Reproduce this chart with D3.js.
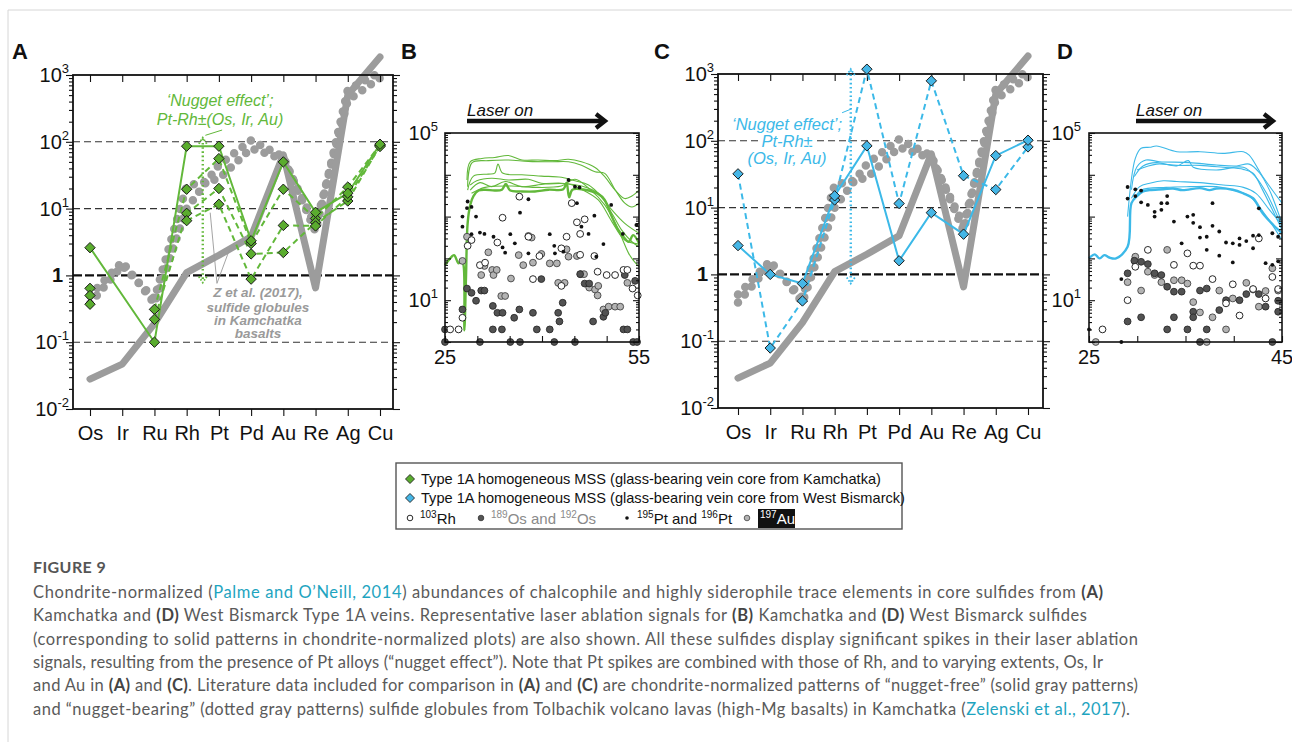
<!DOCTYPE html>
<html><head><meta charset="utf-8">
<script src="https://cdn.jsdelivr.net/npm/d3@7/dist/d3.min.js"></script>
<style>
html,body{margin:0;padding:0;background:#fff;}
svg{display:block;font-family:"Liberation Sans",Arial,sans-serif;}
</style></head><body>
<svg width="1292" height="742"></svg>
<script>
// ================= DATA =================
const elements = ["Os","Ir","Ru","Rh","Pt","Pd","Au","Re","Ag","Cu"];
const gridLevels = [100, 10, 1, 0.1];

// literature (Zelenski et al. 2017) patterns
const grayFree = [0.028,0.047,0.19,1.1,2.0,3.8,64,0.65,500,1860];
const grayNug1 = [0.5,1.6,0.38,10,45,105,60,4.5,600,1100];
const grayNug2 = [0.38,1.4,0.45,22,28,80,55,5.5,420,900];

// Panel A: Kamchatka
const kamSolid = [2.6,null,0.10,86,86,3.3,50,8.8,17,92];
const kamDash1 = [0.64,null,0.31,19.5,56,3.0,19.5,7.1,21,90];
const kamDash2 = [0.50,null,0.22,8.5,20,2.1,2.2,6.2,13,88];
const kamDash3 = [0.37,null,null,6.6,11.6,0.88,5.6,5.5,15,85];

// Panel C: West Bismarck
const bisSolid = [2.7,1.0,0.73,15,84,1.6,8.4,4.0,60,102];
const bisDash  = [32,0.079,0.40,13,1180,11.5,790,30,18.6,81];

// Panel B: laser signals Kamchatka [time s, cps]
const kamSignalThick = [[25,69],[25.8,100],[26.4,120],[27.1,76],[27.6,95],[27.9,63],[28.0,1.9],[28.25,36],[28.5,690],[28.9,1900],[29.4,3100],[30.2,4200],[31.2,4400],[32.7,4200],[33.8,4400],[34.4,6000],[35.1,4200],[36.9,4000],[38.9,4000],[41.0,4400],[43.3,4500],[43.8,6500],[44.2,2900],[44.7,4400],[46.6,4400],[48.7,3500],[49.7,2500],[50.8,1000],[51.8,480],[52.6,330],[53.4,250],[54.1,360],[55,230]];
const kamSignal1 = [[28.4,7500],[28.9,20500],[30.7,24600],[32.7,26000],[34.8,29000],[36.9,22600],[39.4,22600],[42.0,21800],[44.1,23500],[46.1,20500],[48.2,15000],[49.7,9000],[51.3,4300],[52.8,2700],[53.9,3100],[55,4300]];
const kamSignal2 = [[28.5,5200],[29.2,19500],[31.7,21800],[34.8,22600],[37.9,21000],[41.5,20500],[44.1,20500],[46.1,17000],[48.2,11800],[49.7,10800],[51.3,4400],[52.8,2100],[53.9,1700],[55,2100]];
const kamSignal3 = [[28.5,4300],[29.4,9300],[31.7,10400],[32.7,11000],[33.2,18000],[33.9,11000],[36.9,10000],[39.9,9300],[43.0,8700],[45.1,7200],[47.2,5700],[49.2,3000],[50.8,1450],[52.8,690],[55,400]];
const kamSignal4 = [[28.9,5700],[29.9,7200],[32.2,8300],[34.8,7500],[37.9,7800],[39.9,6300],[43.0,6300],[46.1,5400],[48.7,3600],[50.8,1200],[52.3,480],[53.9,250],[55,190]];
const kamSignal5 = [[28.9,4300],[30.4,6500],[32.2,5200],[34.3,6900],[36.9,5200],[40.5,6000],[44.1,6000],[46.1,4500],[48.7,2500],[50.8,760],[52.8,275],[55,220]];
const kamSignal6 = [[29.1,3600],[31.2,5000],[35.3,5400],[38.9,5000],[43.0,5400],[45.1,7800],[47.2,4800],[49.7,1900],[51.8,480],[53.4,132],[54.1,91],[55,63]];
const kamRh = [[25.8,2],[27.1,2],[27.7,3.8],[28.5,200],[29.1,275],[30.4,69],[31.2,79],[33.1,240],[33.9,940],[36.5,3000],[37.9,330],[38.6,32],[39.6,114],[43.0,174],[43.0,22],[43.8,330],[44.6,2100],[45.4,730],[45.9,385],[46.6,860],[45.9,122],[48.1,114],[50.0,40],[51.3,40],[52.6,53],[53.2,53],[54.0,19],[54.8,13],[48.6,48]];
const kamOs = [[25,2],[25,1],[27.7,6],[28.4,19],[29.1,15],[29.8,9.7],[30.6,17],[31.1,17],[30.4,1],[32.4,7.3],[32.4,2],[33.1,5],[33.9,5],[33.8,2],[35.1,1],[35.7,3.8],[36.5,6],[36.6,1],[38.6,5],[39.2,2],[39.9,32],[41.2,2],[41.9,1],[42.5,5],[42.7,3.1],[43.2,8.7],[45.1,1],[45.9,42],[46.6,25],[47.3,25],[47.9,3.1],[49.5,4],[49.8,5],[52.6,2],[53.2,2],[54.1,1],[54.7,1],[52.8,40],[54.4,29]];
const kamPt = [[27.7,575],[27.7,1000],[28.4,1600],[28.5,2300],[29.1,1700],[29.8,1000],[29.1,380],[30.4,415],[31.1,385],[32.5,330],[33.9,183],[34.3,137],[35.1,380],[35.8,230],[36.6,1240],[37.9,2600],[37.9,132],[41.2,380],[41.9,200],[42.0,132],[43.3,145],[44.1,7500],[45.1,5200],[45.4,2100],[45.8,5000],[46.1,575],[47.2,385],[48.1,1050],[48.4,110],[49.5,220],[50.7,1900],[52.5,385],[54.6,630]];
const kamAu = [[27.7,87],[28.4,330],[30.6,40],[31.1,66],[31.7,140],[32.3,53],[32.5,40],[33.0,53],[33.7,12.6],[34.3,12.6],[35.2,33],[36.4,120],[37.1,69],[37.9,345],[38.4,315],[38.6,79],[39.9,128],[41.2,76],[42.3,76],[42.5,26],[43.5,26],[43.8,165],[44.1,110],[45.4,114],[46.0,42],[46.5,42],[47.3,20],[48.2,18],[48.7,22],[48.6,13],[49.5,6],[50.3,7],[51.3,7],[52.1,7],[53.2,26]];

// Panel D: laser signals West Bismarck
const bisSignalThick = [[25,100],[25.6,125],[26.1,100],[26.6,120],[27.1,105],[27.8,100],[29.0,190],[29.4,2100],[29.97,3100],[30.6,4000],[31.3,4300],[32.7,4500],[33.7,4700],[34.7,4300],[36.5,4800],[37.5,4300],[38.2,4700],[39.9,4400],[41.0,3600],[42.0,2750],[43.0,1200],[44.1,630],[45,400]];
const bisSignal1 = [[29.0,1000],[29.8,24700],[30.4,43000],[31.3,45500],[32.0,49000],[34.1,35700],[36.5,35700],[38.9,32600],[41.0,35700],[41.6,29600],[43.0,9100],[45,2100]];
const bisSignal2 = [[29.4,4400],[29.97,15600],[30.9,22500],[32.3,20600],[35.4,19600],[38.2,17100],[40.3,16300],[41.6,18000],[42.7,10900],[43.7,4300],[45,690]];
const bisSignal3 = [[29.7,9100],[30.6,16300],[32.0,19600],[34.1,16300],[35.3,21800],[35.8,15100],[38.2,13000],[41.0,15100],[42.3,8700],[43.4,3600],[45,575]];
const bisSignal4 = [[29.97,13000],[32.0,18000],[34.1,16800],[36.5,16800],[38.9,15100],[41.0,13500],[42.0,10900],[43.0,4300],[45,480]];
const bisSignal5 = [[29.4,2750],[30.25,5200],[31.3,6300],[32.7,7200],[34.1,6900],[36.5,6500],[38.9,5700],[41.0,5000],[42.3,3600],[43.7,1450],[45,630]];
const bisSignal6 = [[29.6,2500],[30.4,4300],[33.0,5000],[35.4,5200],[38.2,5200],[39.6,4500],[41.6,3100],[43.4,1000],[45,275]];
const bisRh = [[26.4,2],[29.0,10],[29.8,63],[31.1,160],[33.8,70],[35.2,132],[35.8,67],[36.5,67],[37.8,32],[39.9,24],[40.6,4.3],[39.2,8.4],[42.0,18.5],[42.6,300],[43.3,11],[44.0,36],[44.6,18.5]];
const bisOs = [[29.0,44],[29.0,3.1],[29.7,88],[30.4,83],[30.4,3.9],[31.1,73],[31.8,44],[32.5,40],[33.1,2],[33.1,21],[33.8,16],[33.8,3.9],[34.6,16],[35.2,2],[35.8,5.3],[35.8,3.9],[36.5,17],[36.5,1],[37.2,19],[37.2,2],[38.5,5.8],[39.2,10],[40.6,10],[41.3,14],[42.6,14],[43.3,7],[44.0,1],[44.6,9.7],[44.6,5.3]];
const bisPt = [[25.0,2],[28.35,1],[28.35,32],[29.0,5100],[29.0,2700],[29.8,4500],[29.8,3100],[30.4,4200],[30.4,2200],[31.1,1900],[31.8,1300],[31.8,1000],[32.5,1450],[32.5,2100],[33.1,3100],[33.1,2100],[33.8,760],[34.6,230],[35.2,1000],[35.8,1100],[35.8,710],[36.5,560],[36.5,315],[37.2,330],[37.2,160],[37.8,600],[37.8,2100],[38.5,440],[38.5,116],[39.2,240],[39.9,230],[39.9,80],[40.6,300],[40.6,210],[41.3,260],[42.0,350],[42.0,175],[42.6,360],[42.6,1580],[43.3,77],[44.0,400],[44.0,70],[44.6,330],[44.6,85]];
const bisAu = [[25.7,1],[29.0,27],[29.8,110],[30.4,17],[31.1,48],[31.8,40],[32.5,27],[33.1,160],[33.8,30],[34.6,30],[35.2,25],[35.8,9],[36.5,5.1],[37.2,1],[37.8,3.9],[38.5,17],[39.2,2],[39.9,11],[41.3,26],[42.0,18],[42.6,7],[43.3,16.6],[44.0,58],[44.6,17]];

// annotation anchors (category index, value)
const nuggetArrowA = {idx:3.5, top:115, bottom:0.78};
const nuggetArrowC = {idx:3.5, top:1180, bottom:0.73};

const captionLines = [
 [["Chondrite-normalized (","n"],["Palme and O’Neill, 2014","l"],[") abundances of chalcophile and highly siderophile trace elements in core sulfides from ","n"],["(A)","b"]],
 [["Kamchatka and ","n"],["(D)","b"],[" West Bismarck Type 1A veins. Representative laser ablation signals for ","n"],["(B)","b"],[" Kamchatka and ","n"],["(D)","b"],[" West Bismarck sulfides","n"]],
 [["(corresponding to solid patterns in chondrite-normalized plots) are also shown. All these sulfides display significant spikes in their laser ablation","n"]],
 [["signals, resulting from the presence of Pt alloys (“nugget effect”). Note that Pt spikes are combined with those of Rh, and to varying extents, Os, Ir","n"]],
 [["and Au in ","n"],["(A)","b"],[" and ","n"],["(C)","b"],[". Literature data included for comparison in ","n"],["(A)","b"],[" and ","n"],["(C)","b"],[" are chondrite-normalized patterns of “nugget-free” (solid gray patterns)","n"]],
 [["and “nugget-bearing” (dotted gray patterns) sulfide globules from Tolbachik volcano lavas (high-Mg basalts) in Kamchatka (","n"],["Zelenski et al., 2017","l"],[").","n"]]
];
const captionEnds = [1103,1087,1138,1103,1138,1130];

// ================= DRAWING =================
const svg = d3.select("svg");
const GREEN = "#62b83a", GREEN_FILL = "#5aac2e", BLUE = "#3cb9e8", BLUE_FILL = "#45b6e6", GRAY = "#9c9c9c";

svg.append("line").attr("x1",8).attr("x2",1292).attr("y1",10).attr("y2",10).attr("stroke","#d6d6d6");
svg.append("line").attr("x1",8).attr("x2",8).attr("y1",10).attr("y2",742).attr("stroke","#d6d6d6");

function powLabel(g, xPos, yPos, k, anchorShift) {
  const t = g.append("text").attr("x", xPos).attr("y", yPos).attr("text-anchor","end")
     .attr("font-size",20).attr("fill","#111");
  if (k === 0) { t.attr("font-weight","bold").attr("x", xPos - (anchorShift||0)).text("1"); return; }
  t.append("tspan").text("10");
  t.append("tspan").attr("font-size",13).attr("dy",-9).text(k < 0 ? "-" + (-k) : String(k));
}

function diamondPath(s){ return `M0,${-s}L${s},0L0,${s}L${-s},0Z`; }

function chemPanel(p) {
  const x = d3.scalePoint().domain(elements).range([p.xFirst, p.xLast]);
  const xi = d3.scaleLinear().domain([0, elements.length-1]).range([p.xFirst, p.xLast]);
  const y = d3.scaleLog().domain([0.01, 1000]).range([p.bottom, p.top]);
  const g = svg.append("g");
  gridLevels.forEach(v => {
    g.append("line").attr("x1", p.left).attr("x2", p.right).attr("y1", y(v)).attr("y2", y(v))
      .attr("stroke", v === 1 ? "#111" : "#333").attr("stroke-width", v === 1 ? 2.4 : 1.1)
      .attr("stroke-dasharray", v === 1 ? "9,3" : "7,4");
  });
  const line = d3.line().x(d => x(d[0])).y(d => y(d[1]));
  const ser = vals => elements.map((e,i) => [e, vals[i]]).filter(d => d[1] != null);
  // literature
  [grayNug1, grayNug2].forEach(v => g.append("path").attr("d", line(ser(v))).attr("fill","none")
     .attr("stroke",GRAY).attr("stroke-width",8.5).attr("stroke-linecap","round").attr("stroke-dasharray","0,10.5"));
  g.append("path").attr("d", line(ser(grayFree))).attr("fill","none").attr("stroke",GRAY)
     .attr("stroke-width",7).attr("stroke-linejoin","round").attr("stroke-linecap","round");
  // axes
  const minors = []; d3.range(-2,3).forEach(k => d3.range(2,10).forEach(m => minors.push(m*Math.pow(10,k))));
  const majors = d3.range(-2,4).map(k => Math.pow(10,k));
  const axL = g.append("g").attr("transform",`translate(${p.left},0)`);
  axL.append("g").call(d3.axisLeft(y).tickValues(minors).tickSize(4).tickFormat(""));
  axL.append("g").call(d3.axisLeft(y).tickValues(majors).tickSize(7).tickFormat(""));
  const axR = g.append("g").attr("transform",`translate(${p.right},0)`);
  axR.append("g").call(d3.axisRight(y).tickValues(minors).tickSize(4).tickFormat(""));
  axR.append("g").call(d3.axisRight(y).tickValues(majors).tickSize(7).tickFormat(""));
  g.append("g").attr("transform",`translate(0,${p.top})`).call(d3.axisBottom(x).tickSize(7).tickFormat(""));
  const axB = g.append("g").attr("transform",`translate(0,${p.bottom})`).call(d3.axisBottom(x).tickSize(7).tickPadding(10));
  axB.selectAll("text").attr("font-size",20).attr("fill","#111").attr("font-family",'"Liberation Sans",Arial,sans-serif');
  g.selectAll(".domain").remove();
  g.selectAll(".tick line").attr("stroke","#111").attr("stroke-width",1.1);
  g.append("rect").attr("x",p.left).attr("y",p.top).attr("width",p.right-p.left).attr("height",p.bottom-p.top)
     .attr("fill","none").attr("stroke","#111").attr("stroke-width",1.8);
  majors.forEach(v => powLabel(g, p.left-4, y(v)+7, Math.round(Math.log10(v)), 6));
  return {x, xi, y, g, line, ser};
}

function drawSeries(P, vals, color, fill, dashed, skipOsLink) {
  let pts = P.ser(vals);
  let lp = skipOsLink ? pts.filter(d => d[0] !== "Os") : pts;
  P.g.append("path").attr("d", P.line(lp)).attr("fill","none").attr("stroke",color)
    .attr("stroke-width",2).attr("stroke-dasharray", dashed ? "6,4" : null);
  return pts;
}
function drawDiamonds(P, pts, fill) {
  P.g.selectAll(null).data(pts).join("path")
    .attr("transform", d => `translate(${P.x(d[0])},${P.y(d[1])})`)
    .attr("d", diamondPath(5.2)).attr("fill",fill).attr("stroke","#1a1a1a").attr("stroke-width",1);
}
function dottedArrow(P, a, color) {
  const xx = P.xi(a.idx), y0 = P.y(a.top), y1 = P.y(a.bottom);
  P.g.append("line").attr("x1",xx).attr("x2",xx).attr("y1",y0+1).attr("y2",y1-1).attr("stroke",color)
    .attr("stroke-width",2.4).attr("stroke-dasharray","1.6,2.6");
  P.g.append("path").attr("d",`M${xx-4},${y0+6}L${xx},${y0}L${xx+4},${y0+6}`).attr("fill","none").attr("stroke",color).attr("stroke-width",1.8).attr("stroke-dasharray","1.6,1.6");
  P.g.append("path").attr("d",`M${xx-4},${y1-6}L${xx},${y1}L${xx+4},${y1-6}`).attr("fill","none").attr("stroke",color).attr("stroke-width",1.8).attr("stroke-dasharray","1.6,1.6");
}

// ----- Panel A -----
const A = chemPanel({left:73, right:393, top:75, bottom:409, xFirst:90, xLast:380});
const aPts = [];
[[kamDash1,true],[kamDash2,true],[kamDash3,true],[kamSolid,false]].forEach(([v,d]) => {
  aPts.push(...drawSeries(A, v, GREEN, GREEN_FILL, d, d));
});
dottedArrow(A, nuggetArrowA, GREEN);
A.g.append("line").attr("x1",A.xi(4.1)).attr("y1",A.y(150)).attr("x2",A.xi(3.58)).attr("y2",A.y(125)).attr("stroke",GREEN).attr("stroke-width",1);
// gray pointer to literature lines
A.g.append("path").attr("d",`M${A.xi(3.73)},${A.y(8.7)}L${A.xi(3.94)},${A.y(0.76)}L${A.xi(4.35)},${A.y(2.6)}`)
  .attr("fill","none").attr("stroke","#9a9a9a").attr("stroke-width",0.9);
drawDiamonds(A, aPts, GREEN_FILL);
A.g.append("text").attr("text-anchor","middle").attr("font-style","italic").attr("font-size",16).attr("fill",GREEN)
  .attr("x",220).attr("y",106).text("‘Nugget effect’;");
A.g.append("text").attr("text-anchor","middle").attr("font-style","italic").attr("font-size",16).attr("fill",GREEN)
  .attr("x",220).attr("y",124.5).text("Pt-Rh±(Os, Ir, Au)");
const zLab = A.g.append("text").attr("text-anchor","middle").attr("font-style","italic").attr("font-weight","bold")
  .attr("font-size",13.5).attr("fill","#9a9a9a");
[["Z et al. (2017),",297],["sulfide globules",312],["in Kamchatka",325],["basalts",338]].forEach(([t,yy]) =>
  zLab.append("tspan").attr("x",258).attr("y",yy).text(t));

// ----- Panel C -----
const C = chemPanel({left:718, right:1043, top:74, bottom:408, xFirst:738, xLast:1028});
const cPts = [];
cPts.push(...drawSeries(C, bisDash, BLUE, BLUE_FILL, true, false));
cPts.push(...drawSeries(C, bisSolid, BLUE, BLUE_FILL, false, false));
dottedArrow(C, nuggetArrowC, BLUE);
C.g.append("line").attr("x1",C.xi(3.23)).attr("y1",C.y(263)).attr("x2",C.xi(3.52)).attr("y2",C.y(300)).attr("stroke",BLUE).attr("stroke-width",1);
drawDiamonds(C, cPts, BLUE_FILL);
const cLab = C.g.append("text").attr("text-anchor","middle").attr("font-style","italic").attr("font-size",16.5).attr("fill",BLUE)
  .attr("stroke","#fff").attr("stroke-width",5).attr("paint-order","stroke");
[["‘Nugget effect’;",130],["Pt-Rh±",147],["(Os, Ir, Au)",164]].forEach(([t,yy]) =>
  cLab.append("tspan").attr("x",787).attr("y",yy).text(t));

// ----- time-signal panels -----
function tsPanel(p) {
  const x = d3.scaleLinear().domain(p.xDomain).range([p.left, p.right]);
  const y = d3.scaleLog().domain([1, 1e5]).range([p.bottom, p.top]);
  const g = svg.append("g");
  const line = d3.line().x(d => x(d[0])).y(d => y(d[1])).curve(d3.curveCatmullRom);
  p.thin.forEach(s => g.append("path").attr("d", line(s)).attr("fill","none").attr("stroke",p.color).attr("stroke-width",1.1));
  g.append("path").attr("d", line(p.thick)).attr("fill","none").attr("stroke",p.color).attr("stroke-width",2.4);
  const dots = (data, r, fill, stroke) => g.selectAll(null).data(data).join("circle")
    .attr("cx", d => x(d[0])).attr("cy", d => y(d[1])).attr("r", r).attr("fill", fill)
    .attr("stroke", stroke).attr("stroke-width", stroke === "none" ? 0 : 0.9);
  dots(p.au, 3.4, "#b3b3b3", "#444");
  dots(p.os, 3.4, "#525252", "#2a2a2a");
  dots(p.rh, 3.4, "#fff", "#111");
  dots(p.pt, 1.9, "#111", "none");
  // axes
  const minors = []; d3.range(0,5).forEach(k => d3.range(2,10).forEach(m => minors.push(m*Math.pow(10,k))));
  const majors = d3.range(0,6).map(k => Math.pow(10,k));
  const L = g.append("g").attr("transform",`translate(${p.left},0)`);
  L.append("g").call(d3.axisRight(y).tickValues(minors).tickSize(3).tickFormat(""));
  L.append("g").call(d3.axisRight(y).tickValues(majors).tickSize(6).tickFormat(""));
  const R = g.append("g").attr("transform",`translate(${p.right},0)`);
  R.append("g").call(d3.axisLeft(y).tickValues(minors).tickSize(3).tickFormat(""));
  R.append("g").call(d3.axisLeft(y).tickValues(majors).tickSize(6).tickFormat(""));
  g.append("g").attr("transform",`translate(0,${p.bottom})`).call(d3.axisTop(x).tickValues(d3.range(p.xDomain[0], p.xDomain[1]+1, 5)).tickSize(6).tickFormat(""));
  g.selectAll(".domain").remove();
  g.selectAll(".tick line").attr("stroke","#111").attr("stroke-width",1.1);
  g.append("rect").attr("x",p.left).attr("y",p.top).attr("width",p.right-p.left).attr("height",p.bottom-p.top)
    .attr("fill","none").attr("stroke","#111").attr("stroke-width",1.6);
  [1e5, 10].forEach(v => powLabel(g, p.labelX, y(v)+7, Math.round(Math.log10(v)), 0));
  p.xDomain.forEach(v => g.append("text").attr("x", x(v)).attr("y", p.bottom+22).attr("text-anchor","middle")
    .attr("font-size",20).attr("fill","#111").text(v));
  // laser on
  g.append("text").attr("x",p.laser[0]).attr("y",116).attr("font-size",17).attr("font-style","italic").attr("fill","#111").text("Laser on");
  g.append("line").attr("x1",p.laser[0]).attr("x2",p.laser[1]-3).attr("y1",121).attr("y2",121).attr("stroke","#111").attr("stroke-width",4.5);
  g.append("path").attr("d",`M${p.laser[1]-11},${114}L${p.laser[1]-2},121L${p.laser[1]-11},${128}`).attr("fill","none")
    .attr("stroke","#111").attr("stroke-width",4.2).attr("stroke-linejoin","miter");
  return {x,y,g};
}
tsPanel({left:445, right:639, top:133, bottom:342, xDomain:[25,55], color:GREEN, labelX:438, laser:[467,607],
  thin:[kamSignal1,kamSignal2,kamSignal3,kamSignal4,kamSignal5,kamSignal6], thick:kamSignalThick,
  rh:kamRh, os:kamOs, pt:kamPt, au:kamAu});
tsPanel({left:1089, right:1282, top:133, bottom:342, xDomain:[25,45], color:BLUE, labelX:1081, laser:[1136,1275],
  thin:[bisSignal1,bisSignal2,bisSignal3,bisSignal4,bisSignal5,bisSignal6], thick:bisSignalThick,
  rh:bisRh, os:bisOs, pt:bisPt, au:bisAu});

// panel letters
[["A",12],["B",401],["C",654],["D",1057]].forEach(([t,xx]) =>
  svg.append("text").attr("x",xx).attr("y",59).attr("font-size",22).attr("font-weight","bold").attr("fill","#111").text(t));

// ----- legend -----
const lg = svg.append("g");
lg.append("rect").attr("x",396).attr("y",463).attr("width",506).attr("height",66).attr("fill","#fff").attr("stroke","#555").attr("stroke-width",1.4);
lg.append("path").attr("transform","translate(410,479)").attr("d",diamondPath(4.5)).attr("fill",GREEN_FILL).attr("stroke","#222").attr("stroke-width",0.9);
lg.append("path").attr("transform","translate(410,498)").attr("d",diamondPath(4.5)).attr("fill",BLUE_FILL).attr("stroke","#222").attr("stroke-width",0.9);
lg.append("text").attr("x",421).attr("y",484).attr("font-size",14.6).attr("fill","#111").text("Type 1A homogeneous MSS (glass-bearing vein core from Kamchatka)");
lg.append("text").attr("x",421).attr("y",503).attr("font-size",14.6).attr("fill","#111").text("Type 1A homogeneous MSS (glass-bearing vein core from West Bismarck)");
lg.append("circle").attr("cx",410).attr("cy",518).attr("r",2.8).attr("fill","#fff").attr("stroke","#111").attr("stroke-width",0.9);
const t1 = lg.append("text").attr("x",420).attr("y",524).attr("font-size",15).attr("fill","#111");
t1.append("tspan").attr("font-size",10).attr("dy",-6).text("103"); t1.append("tspan").attr("dy",6).text("Rh");
lg.append("circle").attr("cx",481).attr("cy",518).attr("r",2.8).attr("fill","#555").attr("stroke","#333").attr("stroke-width",0.8);
const t2 = lg.append("text").attr("x",491).attr("y",524).attr("font-size",15).attr("fill","#8a8a8a");
t2.append("tspan").attr("font-size",10).attr("dy",-6).text("189"); t2.append("tspan").attr("dy",6).text("Os and ");
t2.append("tspan").attr("font-size",10).attr("dy",-6).text("192"); t2.append("tspan").attr("dy",6).text("Os");
lg.append("circle").attr("cx",627).attr("cy",518).attr("r",1.8).attr("fill","#111");
const t3 = lg.append("text").attr("x",637).attr("y",524).attr("font-size",15).attr("fill","#111");
t3.append("tspan").attr("font-size",10).attr("dy",-6).text("195"); t3.append("tspan").attr("dy",6).text("Pt and ");
t3.append("tspan").attr("font-size",10).attr("dy",-6).text("196"); t3.append("tspan").attr("dy",6).text("Pt");
lg.append("circle").attr("cx",747).attr("cy",518).attr("r",2.8).attr("fill","#b3b3b3").attr("stroke","#444").attr("stroke-width",0.8);
lg.append("rect").attr("x",758).attr("y",509).attr("width",37).attr("height",19).attr("fill","#111");
const t4 = lg.append("text").attr("x",760).attr("y",524).attr("font-size",15).attr("fill","#fff");
t4.append("tspan").attr("font-size",10).attr("dy",-6).text("197"); t4.append("tspan").attr("dy",6).text("Au");

// ----- caption -----
svg.append("text").attr("x",33).attr("y",573).attr("font-family","Lato, 'Open Sans', sans-serif").attr("font-size",16)
  .attr("font-weight","bold").attr("fill","#555").attr("letter-spacing",0.4).text("FIGURE 9");
captionLines.forEach((segs, i) => {
  const t = svg.append("text").attr("x",33).attr("y",598 + i*23.3)
    .attr("font-family","Lato, 'Open Sans', sans-serif").attr("font-size",16.5).attr("fill","#5a5a5a")
    .attr("textLength", captionEnds[i]-33).attr("lengthAdjust","spacing").style("white-space","pre");
  segs.forEach(([s, st]) => {
    const ts = t.append("tspan").text(s);
    if (st === "b") ts.attr("font-weight","bold").attr("fill","#444");
    if (st === "l") ts.attr("fill","#1ea4bf");
  });
});
</script>
</body></html>
